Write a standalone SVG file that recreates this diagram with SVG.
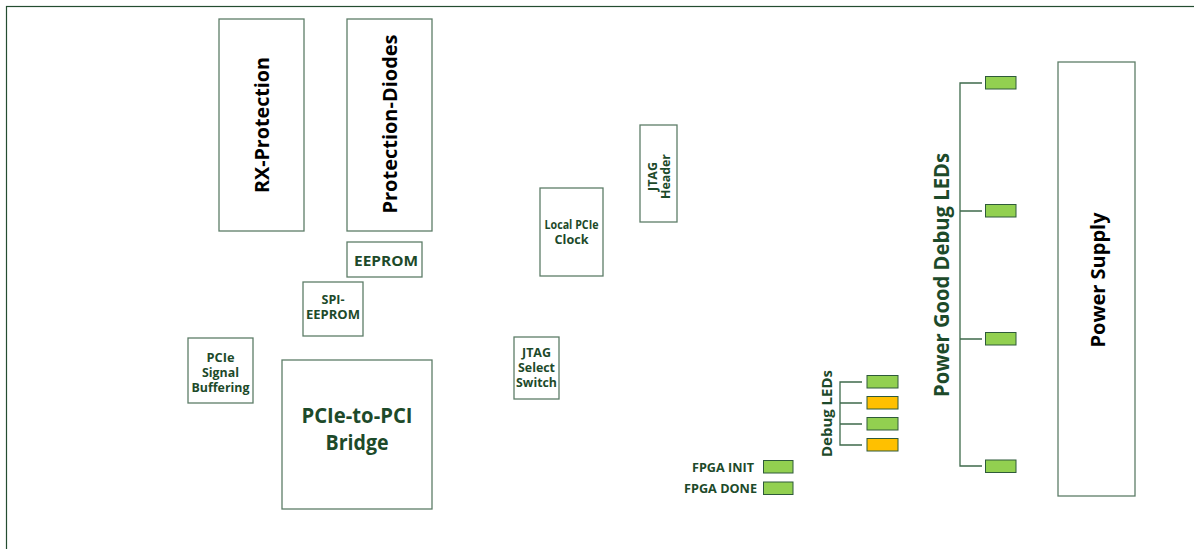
<svg xmlns="http://www.w3.org/2000/svg" width="1194" height="549" viewBox="0 0 1194 549">
<style>
.box{fill:#fff;stroke:#5d7d68;stroke-width:1.3}
.t{font-family:"Open Sans","Noto Sans",sans-serif;font-weight:bold;fill:#1d4a2a;text-anchor:middle}
.k{fill:#000}
.ln{stroke:#3e6a4b;stroke-width:1.3;fill:none}
.g{fill:#92d050;stroke:#2e5a3a;stroke-width:1}
.o{fill:#ffc000;stroke:#2e5a3a;stroke-width:1}
</style>
<rect x="0" y="0" width="1194" height="549" fill="#fff"/>
<rect x="6.5" y="6.5" width="1220" height="600" fill="none" stroke="#244d30" stroke-width="1.2"/>

<g id="rx-protection">
<rect class="box" x="219" y="19" width="85" height="212"/>
<text class="t k" transform="translate(269,125) rotate(-90)" font-size="19" textLength="136" lengthAdjust="spacingAndGlyphs">RX-Protection</text>
</g>
<g id="protection-diodes">
<rect class="box" x="347" y="19" width="85" height="212"/>
<text class="t k" transform="translate(397,124) rotate(-90)" font-size="19" textLength="179" lengthAdjust="spacingAndGlyphs">Protection-Diodes</text>
</g>
<g id="eeprom">
<rect class="box" x="347" y="242" width="75" height="35"/>
<text class="t" x="386" y="266" font-size="14.5" textLength="64" lengthAdjust="spacingAndGlyphs">EEPROM</text>
</g>
<g id="spi-eeprom">
<rect class="box" x="303" y="282" width="60" height="54"/>
<text class="t" x="333" y="304" font-size="11.5" textLength="23" lengthAdjust="spacingAndGlyphs">SPI-</text>
<text class="t" x="333" y="319" font-size="11.5" textLength="54" lengthAdjust="spacingAndGlyphs">EEPROM</text>
</g>
<g id="pcie-signal-buffering">
<rect class="box" x="188" y="338" width="65" height="65"/>
<text class="t" x="220.5" y="362" font-size="11.5" textLength="28" lengthAdjust="spacingAndGlyphs">PCIe</text>
<text class="t" x="220.5" y="377" font-size="11.5" textLength="37" lengthAdjust="spacingAndGlyphs">Signal</text>
<text class="t" x="220.5" y="392" font-size="11.5" textLength="58" lengthAdjust="spacingAndGlyphs">Buffering</text>
</g>
<g id="pcie-to-pci-bridge">
<rect class="box" x="282" y="360" width="150" height="149"/>
<text class="t" x="357" y="423" font-size="21" textLength="111" lengthAdjust="spacingAndGlyphs">PCIe-to-PCI</text>
<text class="t" x="357" y="450" font-size="21" textLength="63" lengthAdjust="spacingAndGlyphs">Bridge</text>
</g>
<g id="local-pcie-clock">
<rect class="box" x="540" y="188" width="63" height="88"/>
<text class="t" x="571.5" y="229" font-size="11.5" textLength="54" lengthAdjust="spacingAndGlyphs">Local PCIe</text>
<text class="t" x="571.5" y="244" font-size="11.5" textLength="34" lengthAdjust="spacingAndGlyphs">Clock</text>
</g>
<g id="jtag-header">
<rect class="box" x="640" y="125" width="37" height="97"/>
<text class="t" transform="translate(656.5,176.5) rotate(-90)" font-size="11.5" textLength="29" lengthAdjust="spacingAndGlyphs">JTAG</text>
<text class="t" transform="translate(670,176.5) rotate(-90)" font-size="11.5" textLength="45" lengthAdjust="spacingAndGlyphs">Header</text>
</g>
<g id="jtag-select-switch">
<rect class="box" x="514" y="337" width="45" height="62"/>
<text class="t" x="536.5" y="357" font-size="11.5" textLength="29" lengthAdjust="spacingAndGlyphs">JTAG</text>
<text class="t" x="536.5" y="372" font-size="11.5" textLength="37" lengthAdjust="spacingAndGlyphs">Select</text>
<text class="t" x="536.5" y="387" font-size="11.5" textLength="41" lengthAdjust="spacingAndGlyphs">Switch</text>
</g>
<g id="power-supply">
<rect class="box" x="1058" y="62" width="77" height="434"/>
<text class="t k" transform="translate(1105,280) rotate(-90)" font-size="19" textLength="135" lengthAdjust="spacingAndGlyphs">Power Supply</text>
</g>

<g id="connectors">
<path class="ln" d="M862 382H840V445H862M840 403H862M840 424H862"/>
<path class="ln" d="M982 83H960V466H982M960 211H982M960 339H982"/>
</g>

<g id="debug-leds">
<text class="t" transform="translate(832,413.5) rotate(-90)" font-size="14" textLength="87" lengthAdjust="spacingAndGlyphs">Debug LEDs</text>
<rect class="g" x="867" y="375.5" width="31" height="12.5"/>
<rect class="o" x="867" y="396.5" width="31" height="12.5"/>
<rect class="g" x="867" y="417.5" width="31" height="12.5"/>
<rect class="o" x="867" y="438.5" width="31" height="12.5"/>
</g>
<g id="power-good-debug-leds">
<text class="t" transform="translate(949,275) rotate(-90)" font-size="20.5" textLength="244" lengthAdjust="spacingAndGlyphs">Power Good Debug LEDs</text>
<rect class="g" x="985.5" y="76.5" width="30.5" height="12.5"/>
<rect class="g" x="985.5" y="204.5" width="30.5" height="12.5"/>
<rect class="g" x="985.5" y="332.5" width="30.5" height="12.5"/>
<rect class="g" x="985.5" y="460" width="30.5" height="12.5"/>
</g>
<g id="fpga-init">
<text class="t" x="754" y="471.5" font-size="12.5" text-anchor="end" style="text-anchor:end" textLength="62" lengthAdjust="spacingAndGlyphs">FPGA INIT</text>
<rect class="g" x="763.5" y="460.5" width="29.5" height="12.5"/>
</g>
<g id="fpga-done">
<text class="t" x="757" y="493" font-size="12.5" style="text-anchor:end" textLength="73" lengthAdjust="spacingAndGlyphs">FPGA DONE</text>
<rect class="g" x="763.5" y="482" width="29.5" height="12.5"/>
</g>
</svg>
